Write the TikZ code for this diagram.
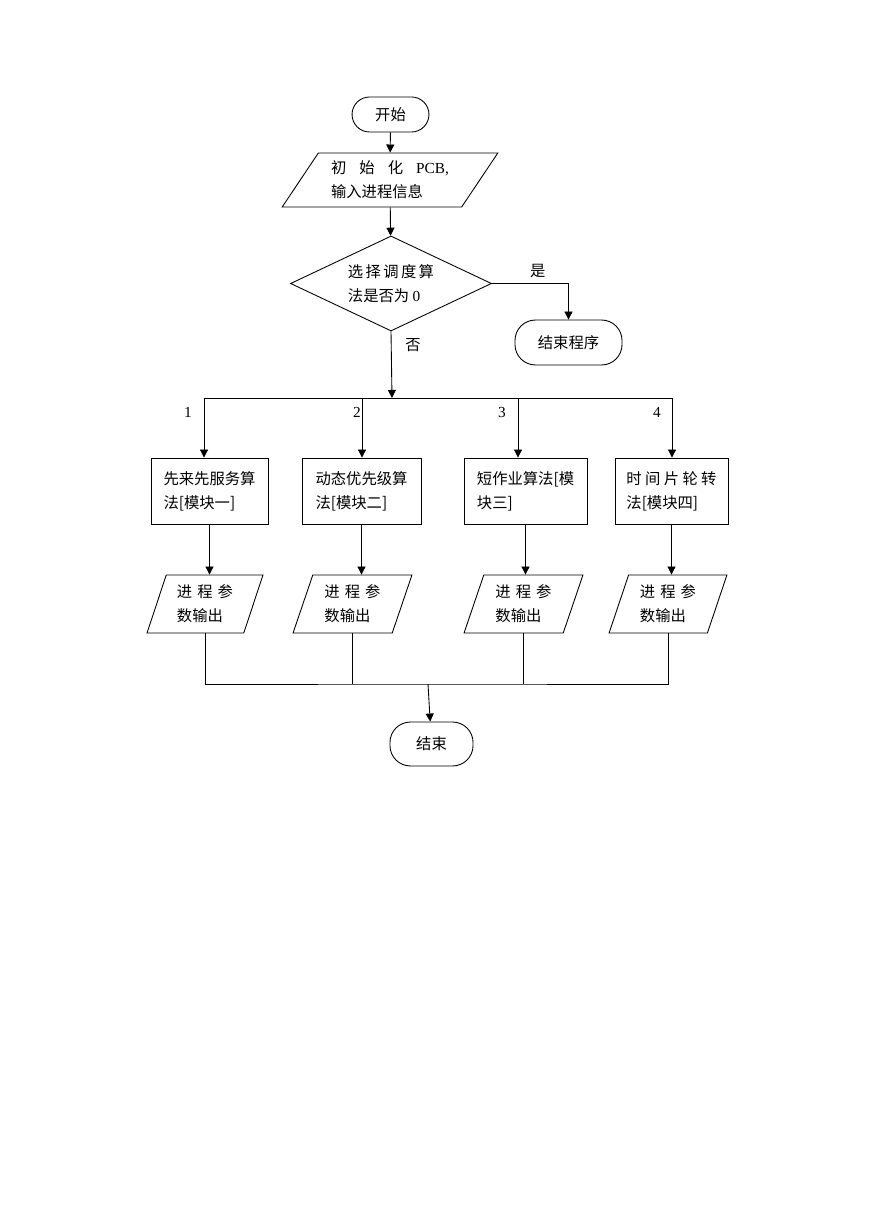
\documentclass[tikz,border=0pt]{standalone}
\usepackage{fontspec}
\setmainfont{Liberation Serif}
\newfontfamily\cjk{Noto Sans CJK SC}
\usepackage{tikz}
\usetikzlibrary{arrows.meta,shapes.geometric,positioning}

\newcommand{\spreadline}[2]{\makebox[#1][s]{#2}}

\begin{document}
\begin{tikzpicture}
[
	x	= 0.685pt,	% one unit is one pixel of the page
	y	= -0.685pt,	% y runs downwards
	line width	= 0.6pt,
	every node/.style	= {font=\fontsize{10.5}{16.4}\selectfont\cjk},
	num/.style	= {font=\fontsize{10.5}{12.6}\selectfont\rmfamily},
	terminal/.style	= {draw, rectangle, rounded corners=#1, inner sep=0pt},
	terminal/.default	= 12pt,
	process/.style	= {draw, rectangle, minimum height=45.2pt, align=left, inner sep=0pt},
	io/.style	= {draw, trapezium, trapezium stretches=true, trapezium left angle=70, trapezium right angle=110, minimum height=39.7pt, align=left, inner sep=0pt},
	decision/.style	= {draw, diamond, aspect=2.1, minimum width=137.7pt, minimum height=65.1pt, align=left, inner sep=0pt},
	arr/.style	= {-{Triangle[length=5.5pt,width=5.5pt]}},
]

\useasboundingbox (0,0) rectangle (869,1228);

\node [terminal, minimum width=52.7pt, minimum height=24pt] (start) at (390.5,114.5) {开始};
\node [io, trapezium left angle=52, trapezium right angle=128, minimum width=148pt, minimum height=37pt] (init) at (390,180) {\spreadline{80.8pt}{初 始 化 {\rmfamily PCB,}}\\输入进程信息};
\node [decision] (dec) at (391,283.5) {\spreadline{59pt}{选 择 调 度 算}\\法是否为 {\rmfamily 0}};
\node [terminal=14pt, minimum width=73.3pt, minimum height=30.8pt] (quit) at (568.5,342.5) {结束程序};

\node [process, minimum width=80.1pt] (b1) at (209.5,491) {先来先服务算\\法[模块一]};
\node [process, minimum width=81.5pt] (b2) at (361.5,491) {动态优先级算\\法[模块二]};
\node [process, minimum width=84.3pt] (b3) at (525.5,491) {短作业算法[模\\块三]};
\node [process, minimum width=77.4pt] (b4) at (671.5,491) {\spreadline{61.7pt}{时 间 片 轮 转}\\法[模块四]};

\node [io, minimum width=79.5pt] (p1) at (205,604) {\spreadline{38.4pt}{进 程 参}\\数输出};
\node [io, minimum width=81.5pt] (p2) at (352.5,604) {\spreadline{38.4pt}{进 程 参}\\数输出};
\node [io, minimum width=81.5pt] (p3) at (523.5,604) {\spreadline{38.4pt}{进 程 参}\\数输出};
\node [io, minimum width=80.8pt] (p4) at (668,604) {\spreadline{38.4pt}{进 程 参}\\数输出};

\node [terminal=14pt, minimum width=56.9pt, minimum height=30.1pt] (end) at (431.5,744) {结束};

% branch and merge points
\coordinate (fork) at (392,398);
\coordinate (t1) at (204,398);
\coordinate (t2) at (362,398);
\coordinate (t3) at (518,398);
\coordinate (t4) at (672,398);
\coordinate (merge) at (428,684);

\draw [arr] (start) -- (init);
\draw [arr] (init) -- (dec);
\draw [arr] (dec.east) -| (quit.north) node [pos=0.3, above] {是};
\draw [arr] (dec.south) -- (fork) node [pos=0.2, right=6pt] {否};

\draw (t1) -- (t4);
\draw [arr] (t1) -- (t1 |- b1.north);
\draw [arr] (t2) -- (t2 |- b2.north);
\draw [arr] (t3) -- (t3 |- b3.north);
\draw [arr] (t4) -- (t4 |- b4.north);
\node [num] (n1) at (188,412) {1};
\node [num] (n2) at (357,412) {2};
\node [num] (n3) at (502,412) {3};
\node [num] (n4) at (657,412) {4};

\draw [arr] (b1.south) -- (b1.south |- p1.north);
\draw [arr] (b2.south) -- (b2.south |- p2.north);
\draw [arr] (b3.south) -- (b3.south |- p3.north);
\draw [arr] (b4.south) -- (b4.south |- p4.north);

\draw (p1.center |- p1.south) |- (merge) -| (p4.center |- p4.south);
\draw (p2.center |- p2.south) -- (p2 |- merge);
\draw (p3.center |- p3.south) -- (p3 |- merge);
\draw [arr] (merge) -- (end);

\end{tikzpicture}
\end{document}
